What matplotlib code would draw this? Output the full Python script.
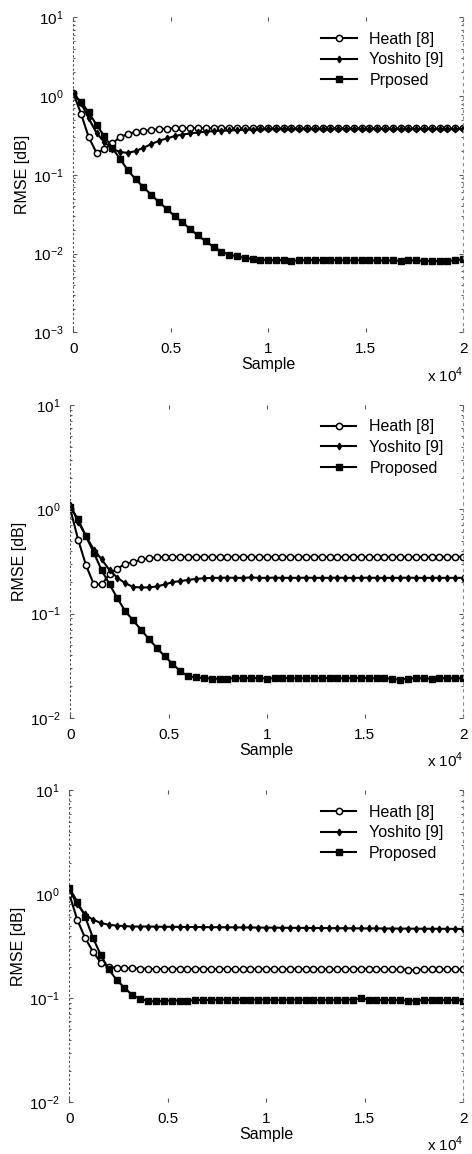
import numpy as np
import matplotlib
matplotlib.use("Agg")
import matplotlib.pyplot as plt
from matplotlib.ticker import LogLocator, NullFormatter

plt.rcParams['font.family'] = ['Liberation Sans', 'DejaVu Sans']
plt.rcParams['mathtext.fontset'] = 'custom'
plt.rcParams['mathtext.rm'] = 'Liberation Sans'

# sample index of each plotted point (every 400 samples)
samples = np.arange(0, 20001, 400)

# --- top panel ---
heath1 = [1.10, 0.60, 0.30, 0.19, 0.21, 0.25, 0.30, 0.33, 0.35, 0.36,
          0.37, 0.38, 0.385, 0.39, 0.39, 0.392, 0.39, 0.39, 0.391, 0.39,
          0.39, 0.392, 0.39, 0.389, 0.39, 0.39, 0.391, 0.39, 0.39, 0.392,
          0.39, 0.39, 0.389, 0.39, 0.391, 0.39, 0.39, 0.39, 0.392, 0.39,
          0.389, 0.39, 0.39, 0.391, 0.39, 0.39, 0.39, 0.389, 0.39, 0.39,
          0.39]
yoshito1 = [1.10, 0.82, 0.52, 0.34, 0.26, 0.215, 0.195, 0.19, 0.20, 0.22,
            0.245, 0.27, 0.29, 0.31, 0.325, 0.335, 0.345, 0.352, 0.358, 0.362,
            0.366, 0.37, 0.373, 0.376, 0.378, 0.38, 0.38, 0.381, 0.38, 0.38,
            0.382, 0.38, 0.38, 0.379, 0.38, 0.381, 0.38, 0.38, 0.38, 0.382,
            0.38, 0.379, 0.38, 0.38, 0.381, 0.38, 0.38, 0.38, 0.379, 0.38,
            0.38]
proposed1 = [1.05, 0.85, 0.62, 0.43, 0.31, 0.22, 0.16, 0.115, 0.088, 0.070,
             0.056, 0.045, 0.037, 0.030, 0.025, 0.0205, 0.017, 0.0143, 0.0122, 0.0106,
             0.0097, 0.0092, 0.0088, 0.0086, 0.0084, 0.0083, 0.0082, 0.0083, 0.0081, 0.0082,
             0.0083, 0.0083, 0.0082, 0.0083, 0.0083, 0.0082, 0.0082, 0.0083, 0.0082, 0.0082,
             0.0082, 0.0082, 0.0081, 0.0082, 0.0082, 0.0081, 0.0081, 0.0080, 0.0081, 0.0082,
             0.0085]

# --- middle panel ---
heath2 = [1.00, 0.51, 0.29, 0.19, 0.19, 0.24, 0.27, 0.30, 0.31, 0.33,
          0.34, 0.345, 0.35, 0.35, 0.352, 0.35, 0.35, 0.351, 0.35, 0.35,
          0.35, 0.352, 0.35, 0.349, 0.35, 0.35, 0.351, 0.35, 0.35, 0.35,
          0.352, 0.35, 0.35, 0.349, 0.35, 0.35, 0.351, 0.35, 0.35, 0.35,
          0.35, 0.349, 0.35, 0.35, 0.35, 0.35, 0.35, 0.349, 0.35, 0.35,
          0.35]
yoshito2 = [1.10, 0.76, 0.55, 0.41, 0.33, 0.26, 0.22, 0.195, 0.18, 0.178,
            0.178, 0.182, 0.19, 0.20, 0.205, 0.21, 0.215, 0.218, 0.22, 0.22,
            0.221, 0.22, 0.22, 0.222, 0.22, 0.22, 0.221, 0.22, 0.22, 0.22,
            0.221, 0.22, 0.22, 0.22, 0.221, 0.22, 0.22, 0.22, 0.221, 0.22,
            0.22, 0.22, 0.22, 0.221, 0.22, 0.22, 0.22, 0.22, 0.22, 0.22,
            0.22]
proposed2 = [1.05, 0.80, 0.55, 0.38, 0.26, 0.19, 0.14, 0.105, 0.086, 0.070,
             0.057, 0.047, 0.039, 0.033, 0.028, 0.025, 0.0245, 0.024, 0.0238, 0.0236,
             0.0238, 0.024, 0.0239, 0.0241, 0.024, 0.0238, 0.024, 0.0241, 0.024, 0.0239,
             0.024, 0.024, 0.0241, 0.024, 0.0239, 0.024, 0.024, 0.0241, 0.024, 0.0239,
             0.024, 0.0236, 0.0232, 0.0238, 0.024, 0.0239, 0.0237, 0.024, 0.024, 0.0239,
             0.024]

# --- bottom panel ---
heath3 = [1.00, 0.57, 0.38, 0.28, 0.22, 0.20, 0.195, 0.195, 0.194, 0.193,
          0.192, 0.19, 0.192, 0.193, 0.191, 0.19, 0.192, 0.193, 0.19, 0.191,
          0.192, 0.19, 0.189, 0.19, 0.192, 0.191, 0.19, 0.19, 0.191, 0.192,
          0.19, 0.19, 0.191, 0.19, 0.19, 0.192, 0.19, 0.193, 0.191, 0.19,
          0.19, 0.189, 0.19, 0.188, 0.186, 0.19, 0.189, 0.19, 0.19, 0.19,
          0.19]
yoshito3 = [1.10, 0.80, 0.64, 0.57, 0.53, 0.51, 0.50, 0.495, 0.49, 0.49,
            0.49, 0.488, 0.487, 0.487, 0.486, 0.485, 0.485, 0.484, 0.483, 0.483,
            0.482, 0.481, 0.48, 0.48, 0.479, 0.478, 0.478, 0.477, 0.476, 0.476,
            0.475, 0.474, 0.474, 0.473, 0.472, 0.472, 0.471, 0.47, 0.47, 0.47,
            0.469, 0.469, 0.468, 0.468, 0.467, 0.467, 0.466, 0.466, 0.466, 0.465,
            0.465]
proposed3 = [1.15, 0.85, 0.61, 0.38, 0.26, 0.19, 0.15, 0.126, 0.107, 0.099,
             0.094, 0.093, 0.094, 0.095, 0.095, 0.095, 0.096, 0.096, 0.096, 0.097,
             0.097, 0.097, 0.097, 0.097, 0.097, 0.097, 0.096, 0.096, 0.097, 0.097,
             0.096, 0.096, 0.096, 0.096, 0.096, 0.097, 0.097, 0.100, 0.097, 0.096,
             0.096, 0.096, 0.096, 0.095, 0.095, 0.096, 0.096, 0.096, 0.096, 0.096,
             0.095]

panels = [
    (heath1, yoshito1, proposed1, 'Prposed', 1e-3),
    (heath2, yoshito2, proposed2, 'Proposed', 1e-2),
    (heath3, yoshito3, proposed3, 'Proposed', 1e-2),
]

xtick_vals = [0, 5000, 10000, 15000, 20000]
xtick_text = ['0', '0.5', '1', '1.5', '2']

# axes boxes in figure fractions: left, bottom, width, height
boxes = [
    [0.155, 0.712, 0.826, 0.273],
    [0.149, 0.378, 0.832, 0.271],
    [0.147, 0.045, 0.834, 0.270],
]

fig = plt.figure(figsize=(4.72, 11.54), dpi=100)

for (h, y, p, plabel, ymin), box in zip(panels, boxes):
    ax = fig.add_axes(box)
    ax.plot(samples, h, color='black', lw=1.5, marker='o', ms=4.5,
            mfc='white', mec='black', mew=1.1, label='Heath [8]')
    ax.plot(samples, y, color='black', lw=1.5, marker='d', ms=3.4,
            mfc='black', mec='black', label='Yoshito [9]')
    ax.plot(samples, p, color='black', lw=1.5, marker='s', ms=4.3,
            mfc='black', mec='black', label=plabel)
    ax.set_yscale('log')
    ax.set_ylim(ymin, 10)
    ax.set_xlim(0, 20000)
    ax.set_xticks(xtick_vals)
    ax.set_xticklabels(xtick_text)
    ax.yaxis.set_major_locator(LogLocator(base=10, numticks=10))
    ax.yaxis.set_minor_locator(LogLocator(base=10, subs=np.arange(2, 10), numticks=10))
    ax.yaxis.set_minor_formatter(NullFormatter())
    ax.tick_params(which='both', direction='in', colors='0.35',
                   labelcolor='black', labelsize=11, width=0.8)
    ax.tick_params(which='major', length=3, pad=7)
    ax.tick_params(which='minor', length=1.5)
    ax.tick_params(top=True, right=True, which='both')

    for side in ['top', 'bottom']:
        ax.spines[side].set_visible(False)
    ax.spines['left'].set_linestyle((0, (1, 3)))
    ax.spines['left'].set_color('0.3')
    ax.spines['right'].set_linestyle((0, (2, 4)))
    ax.spines['right'].set_color('0.55')

    ax.set_xlabel('Sample', fontsize=11.5, labelpad=1)
    ax.set_ylabel('RMSE [dB]', fontsize=11.5, labelpad=2)
    ax.text(1.0, -0.135, r'x 10$^{4}$', transform=ax.transAxes,
            ha='right', va='center', fontsize=11)

    ax.legend(loc='upper right', bbox_to_anchor=(0.975, 0.985), frameon=False,
              fontsize=11.5, handlelength=2.2, handletextpad=0.8,
              labelspacing=0.35, borderaxespad=0.2)

fig.savefig('out.png', dpi=100)
